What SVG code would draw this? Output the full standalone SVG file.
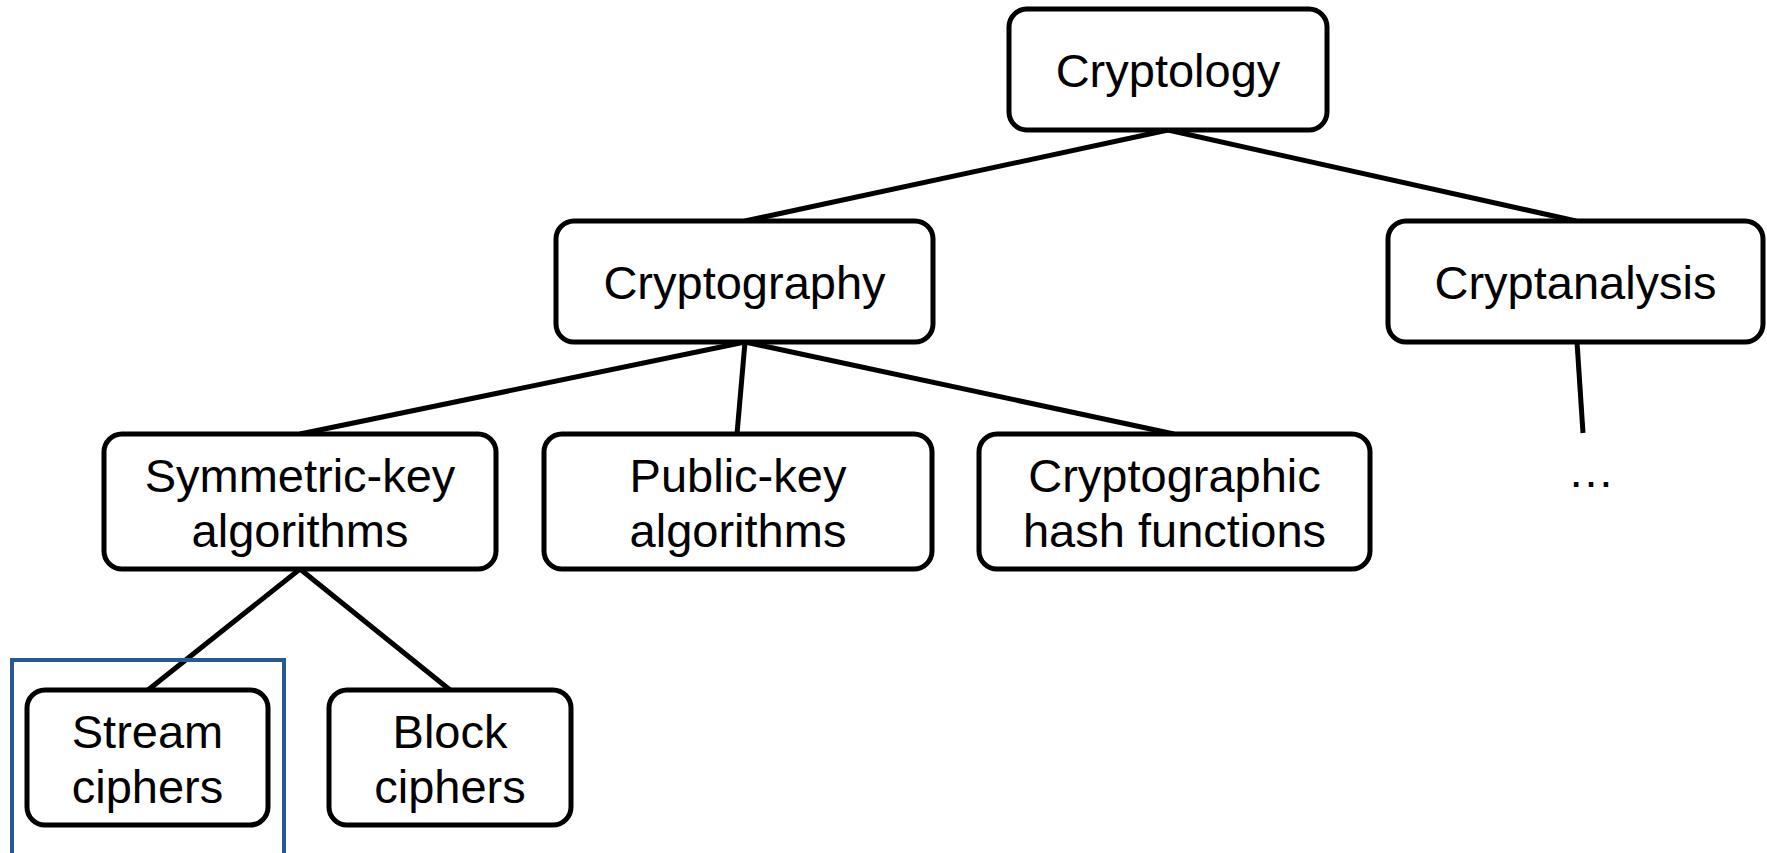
<svg xmlns="http://www.w3.org/2000/svg" width="1767" height="853" viewBox="0 0 1767 853">
  <style>
    .box { fill: #ffffff; stroke: #000000; stroke-width: 5; }
    .edge { stroke: #000000; stroke-width: 5; fill: none; }
    .label { font-family: "Liberation Sans", Arial, sans-serif; font-size: 47px; fill: #000000; text-anchor: middle; }
    .frame { fill: none; stroke: #255a94; stroke-width: 4; }
  </style>
  <rect width="1767" height="853" fill="#ffffff"/>

  <!-- tree connectors -->
  <g id="connectors">
    <line class="edge" x1="1168" y1="130" x2="745" y2="221"/>
    <line class="edge" x1="1168" y1="130" x2="1576" y2="221"/>
    <line class="edge" x1="745" y1="342" x2="300" y2="434"/>
    <line class="edge" x1="745" y1="342" x2="737" y2="434"/>
    <line class="edge" x1="745" y1="342" x2="1174" y2="434"/>
    <line class="edge" x1="1577" y1="342" x2="1583" y2="433"/>
    <line class="edge" x1="300" y1="569" x2="148" y2="690"/>
    <line class="edge" x1="300" y1="569" x2="450" y2="690"/>
  </g>

  <g id="cryptology">
    <rect class="box" x="1009" y="9" width="318" height="121" rx="18"/>
    <text class="label" x="1168" y="87">Cryptology</text>
  </g>

  <g id="cryptography">
    <rect class="box" x="556" y="221" width="377" height="121" rx="18"/>
    <text class="label" x="744.5" y="299">Cryptography</text>
  </g>

  <g id="cryptanalysis">
    <rect class="box" x="1388" y="221" width="375" height="121" rx="18"/>
    <text class="label" x="1575.5" y="299">Cryptanalysis</text>
  </g>

  <g id="more">
    <text class="label" x="1591" y="487">…</text>
  </g>

  <g id="symmetric-key">
    <rect class="box" x="104" y="434" width="392" height="135" rx="18"/>
    <text class="label" x="300" y="491.5">Symmetric-key</text>
    <text class="label" x="300" y="546.5">algorithms</text>
  </g>

  <g id="public-key">
    <rect class="box" x="544" y="434" width="388" height="135" rx="18"/>
    <text class="label" x="738" y="491.5">Public-key</text>
    <text class="label" x="738" y="546.5">algorithms</text>
  </g>

  <g id="hash-functions">
    <rect class="box" x="979" y="434" width="391" height="135" rx="18"/>
    <text class="label" x="1174.5" y="491.5">Cryptographic</text>
    <text class="label" x="1174.5" y="546.5">hash functions</text>
  </g>

  <g id="stream-ciphers">
    <rect class="box" x="27" y="690" width="241" height="135" rx="18"/>
    <text class="label" x="147.5" y="748">Stream</text>
    <text class="label" x="147.5" y="803">ciphers</text>
  </g>

  <g id="block-ciphers">
    <rect class="box" x="329" y="690" width="242" height="135" rx="18"/>
    <text class="label" x="450" y="748">Block</text>
    <text class="label" x="450" y="803">ciphers</text>
  </g>

  <!-- highlight frame around the stream-cipher branch -->
  <g id="highlight">
    <rect class="frame" x="12" y="660" width="272" height="200"/>
  </g>
</svg>
